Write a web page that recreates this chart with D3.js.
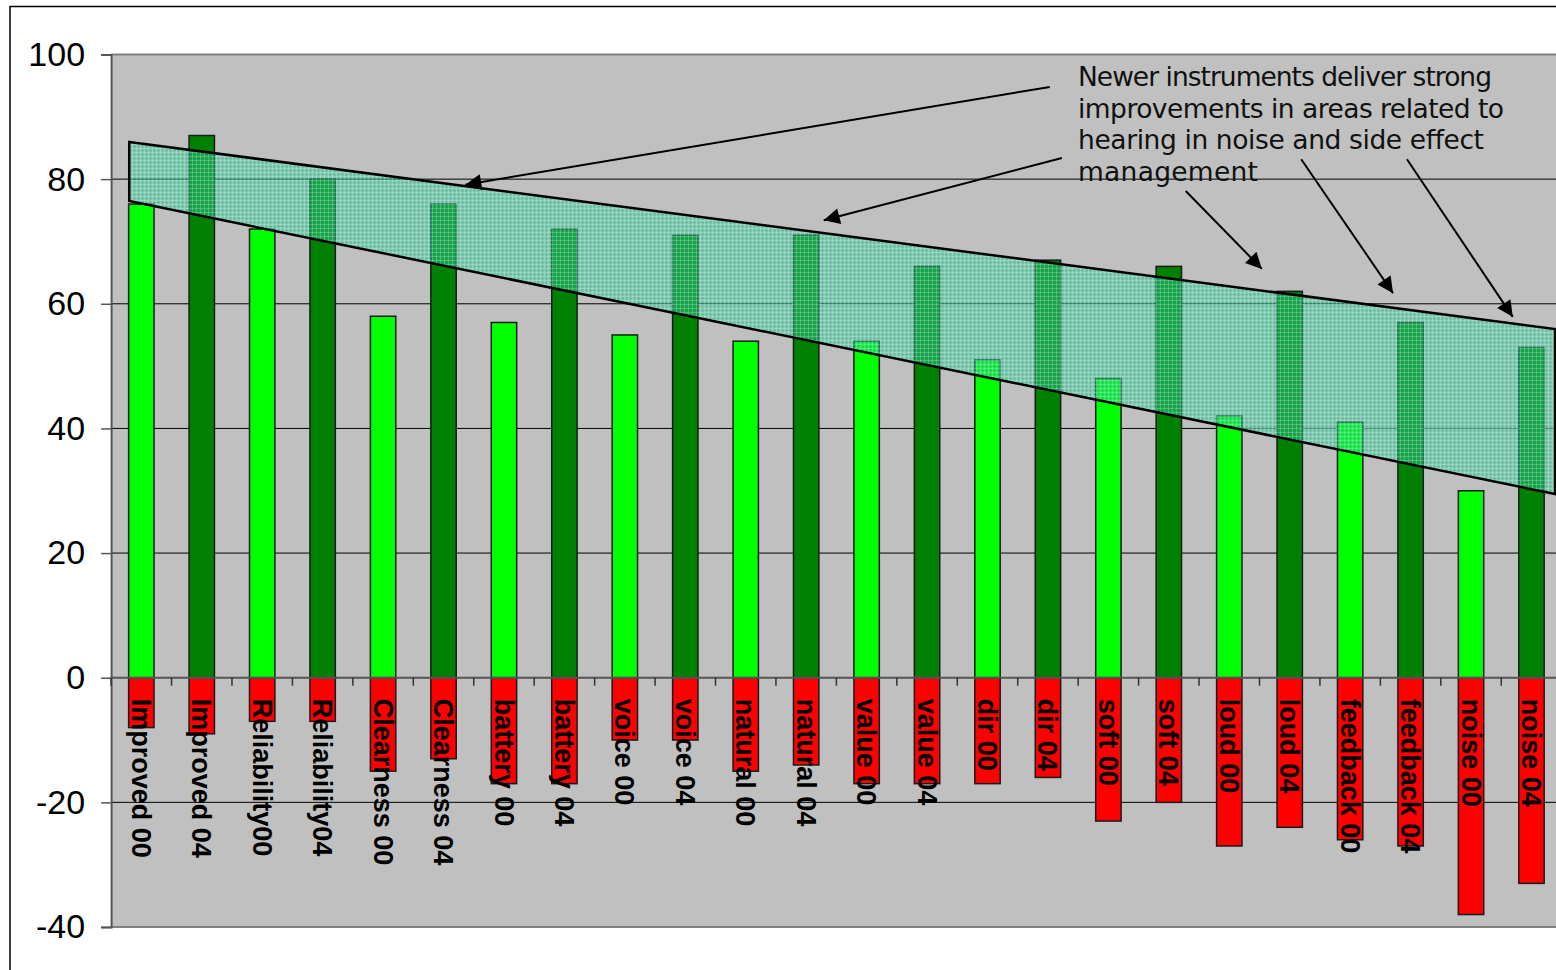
<!DOCTYPE html>
<html>
<head>
<meta charset="utf-8">
<script src="https://cdn.jsdelivr.net/npm/d3@7"></script>
<style>
  html, body { margin: 0; padding: 0; background: #fff; }
  svg { display: block; }
</style>
</head>
<body>
<svg id="chart" width="1556" height="970"></svg>
<script>
// Satisfaction scores, 2000 vs 2004 instruments
const categories = ["Improved 00","Improved 04","Reliability00","Reliability04","Clearness 00","Clearness 04",
  "battery 00","battery 04","voice 00","voice 04","natural 00","natural 04","value 00","value 04",
  "dir 00","dir 04","soft 00","soft 04","loud 00","loud 04","feedback 00","feedback 04","noise 00","noise 04"];
const positiveValues = [76,87,72,80,58,76,57,72,55,71,54,71,54,66,51,67,48,66,42,62,41,57,30,53];
const negativeValues = [-8,-9,-7,-7,-15,-13,-17,-17,-10,-10,-15,-14,-17,-17,-17,-16,-23,-20,-27,-24,-26,-27,-38,-33];
const yTicks = [100,80,60,40,20,0,-20,-40];

// Highlight band (category-position units, value units)
const bandCorners = [[0.30,85.96],[23.89,55.95],[23.89,29.47],[0.30,76.49]];
// Callout arrows: [fromU, fromV, toU, toV]
const arrows = [
  [15.53,94.8, 5.86,79.1],
  [15.73,83.4,11.79,73.4],
  [17.78,78.1,19.04,65.6],
  [19.69,83.2,21.21,61.7],
  [21.44,83.2,23.19,57.9]
];
const noteLines = ["Newer instruments deliver strong","improvements in areas related to","hearing in noise and side effect","management"];
const noteWidths = [414, 426, 406, 180];

const svg = d3.select("#chart");
const plotLeft = 111.1, plotRight = 1561.7, plotTop = 54.5, plotBottom = 927;

const x = d3.scaleBand().domain(categories).range([plotLeft, plotRight]).paddingInner(0.58).paddingOuter(0.29);
const y = d3.scaleLinear().domain([-40, 100]).range([plotBottom, plotTop]);
const u = d3.scaleLinear().domain([0, categories.length]).range([plotLeft, plotRight]);

// outer frame
svg.append("rect").attr("x",10).attr("y",6.5).attr("width",1700).attr("height",1100)
  .attr("fill","#fff").attr("stroke","#000").attr("stroke-width",1.5);

// plot area
svg.append("rect").attr("x",plotLeft).attr("y",plotTop).attr("width",plotRight-plotLeft).attr("height",plotBottom-plotTop)
  .attr("fill","#C0C0C0");

// gridlines
svg.append("g").selectAll("line").data(yTicks.filter(d => d !== 0 && d !== 100 && d !== -40)).join("line")
  .attr("x1",plotLeft).attr("x2",plotRight).attr("y1",d=>y(d)).attr("y2",d=>y(d))
  .attr("stroke","#000").attr("stroke-width",1);
svg.append("line").attr("x1",plotLeft).attr("x2",plotRight).attr("y1",y(100)).attr("y2",y(100))
  .attr("stroke","#808080").attr("stroke-width",2);
svg.append("line").attr("x1",plotLeft).attr("x2",plotRight).attr("y1",y(-40)).attr("y2",y(-40))
  .attr("stroke","#808080").attr("stroke-width",2);

// positive bars
svg.append("g").selectAll("rect").data(categories).join("rect")
  .attr("x", d => x(d)).attr("width", x.bandwidth())
  .attr("y", (d,i) => y(positiveValues[i]))
  .attr("height", (d,i) => y(0) - y(positiveValues[i]))
  .attr("fill", (d,i) => i % 2 === 0 ? "#00FF00" : "#008000")
  .attr("stroke","#1a1a1a").attr("stroke-width",1.5);

// negative bars
svg.append("g").selectAll("rect").data(categories).join("rect")
  .attr("x", d => x(d)).attr("width", x.bandwidth())
  .attr("y", y(0))
  .attr("height", (d,i) => y(negativeValues[i]) - y(0))
  .attr("fill","#FF0000")
  .attr("stroke","#1a1a1a").attr("stroke-width",1.5);

// y axis
const yAxis = svg.append("g").attr("transform",`translate(${plotLeft},0)`)
  .call(d3.axisLeft(y).tickValues(yTicks).tickFormat(d => String(d)).tickSize(10).tickPadding(16));
yAxis.select(".domain").attr("stroke","#555").attr("stroke-width",2);
yAxis.selectAll(".tick line").attr("stroke","#555").attr("stroke-width",1.5);
yAxis.selectAll(".tick text").attr("font-family","'Liberation Sans', Arial, sans-serif")
  .attr("font-size",34).attr("fill","#000");

// zero line and category ticks
svg.append("line").attr("x1",plotLeft).attr("x2",plotRight).attr("y1",y(0)).attr("y2",y(0))
  .attr("stroke","#555").attr("stroke-width",2);
svg.append("g").selectAll("line").data(d3.range(categories.length + 1)).join("line")
  .attr("x1",d=>u(d)).attr("x2",d=>u(d)).attr("y1",y(0)).attr("y2",y(0)+8)
  .attr("stroke","#333").attr("stroke-width",1.5);

// category labels, rotated to read downward
svg.append("g").selectAll("text").data(categories).join("text")
  .attr("transform", d => `translate(${x(d) + x.bandwidth()/2},${y(0)+21}) rotate(90)`)
  .attr("dy","0.35em")
  .attr("font-family","'Liberation Sans', Arial, sans-serif")
  .attr("font-weight","bold").attr("font-size",27).attr("fill","#000")
  .text(d => d);

// cross-hatched highlight band
const defs = svg.append("defs");
const pat = defs.append("pattern").attr("id","hatch").attr("patternUnits","userSpaceOnUse")
  .attr("width",4).attr("height",4);
pat.append("rect").attr("width",4).attr("height",4).attr("fill","#33CC99").attr("fill-opacity",0.5);
pat.append("rect").attr("x",0).attr("y",0).attr("width",1).attr("height",4).attr("fill","#e6f5ee").attr("fill-opacity",0.22);
pat.append("rect").attr("x",0).attr("y",0).attr("width",4).attr("height",1).attr("fill","#e6f5ee").attr("fill-opacity",0.22);
pat.append("rect").attr("x",2).attr("y",2).attr("width",1).attr("height",1).attr("fill","#006633").attr("fill-opacity",0.35);

svg.append("polygon")
  .attr("points", bandCorners.map(c => [u(c[0]), y(c[1])].join(",")).join(" "))
  .attr("fill","url(#hatch)").attr("stroke","#000").attr("stroke-width",2.5);

// callout arrows
defs.append("marker").attr("id","head").attr("viewBox","0 0 10 10").attr("refX",10).attr("refY",5)
  .attr("markerWidth",11).attr("markerHeight",8).attr("markerUnits","strokeWidth").attr("orient","auto")
  .append("path").attr("d","M0,0 L10,5 L0,10 Z").attr("fill","#000");
svg.append("g").selectAll("line").data(arrows).join("line")
  .attr("x1",a=>u(a[0])).attr("y1",a=>y(a[1])).attr("x2",a=>u(a[2])).attr("y2",a=>y(a[3]))
  .attr("stroke","#000").attr("stroke-width",2).attr("marker-end","url(#head)");

// note text, each line stretched to its box width
const note = svg.append("g").attr("font-family","'DejaVu Sans', sans-serif")
  .attr("font-size",26.5).attr("fill","#111");
note.selectAll("text").data(noteLines).join("text")
  .attr("x",1078).attr("y",(d,i)=>86 + i*31.7)
  .attr("textLength",(d,i)=>noteWidths[i]).attr("lengthAdjust","spacing")
  .text(d=>d);
</script>
</body>
</html>
